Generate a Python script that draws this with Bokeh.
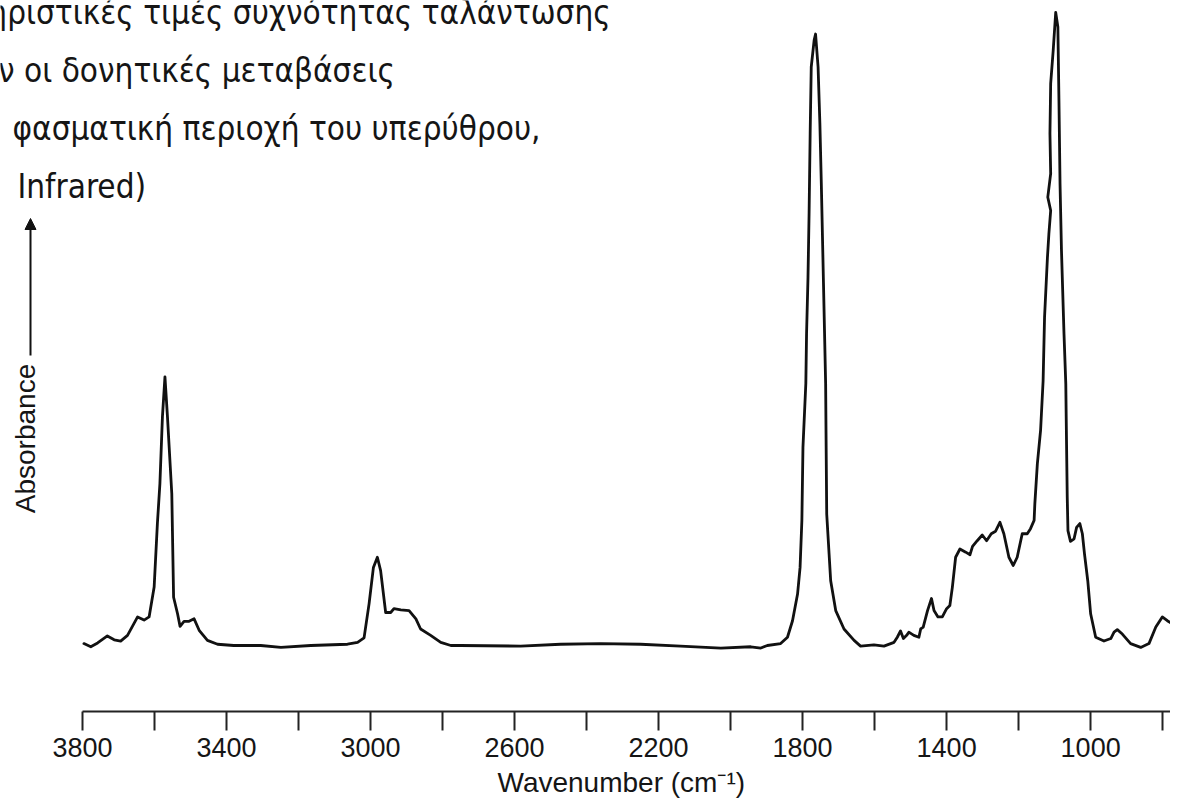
from bokeh.plotting import figure
from bokeh.models import Range1d, FixedTicker, Label, Arrow, NormalHead, Title
from bokeh.embed import file_html
from bokeh.resources import INLINE

# ---------------- data ----------------
wavenumber = [3796, 3777, 3758, 3731, 3712, 3694, 3675, 3647, 3629, 3615,
              3601, 3592, 3585, 3578, 3571, 3564, 3552, 3547, 3536, 3529,
              3518, 3504, 3490, 3476, 3453, 3425, 3380, 3305, 3249, 3166,
              3064, 3036, 3018, 3004, 2992, 2981, 2972, 2958, 2944, 2935,
              2916, 2893, 2874, 2861, 2833, 2805, 2777, 2750, 2583, 2472,
              2361, 2250, 2139, 2027, 1944, 1916, 1898, 1861, 1842, 1828,
              1814, 1807, 1802, 1799, 1791, 1789, 1785, 1782, 1779, 1776,
              1768, 1764, 1757, 1752, 1748, 1742, 1736, 1735, 1733, 1722,
              1708, 1685, 1657, 1639, 1602, 1574, 1546, 1537, 1528, 1520,
              1511, 1505, 1491, 1477, 1472, 1465, 1453, 1442, 1435, 1424,
              1412, 1400, 1391, 1384, 1375, 1363, 1347, 1335, 1328, 1315,
              1301, 1289, 1276, 1264, 1252, 1241, 1227, 1215, 1204, 1190,
              1176, 1167, 1157, 1155, 1148, 1139, 1132, 1128, 1120, 1116,
              1111, 1119, 1111, 1113, 1111, 1104, 1097, 1091, 1088, 1085,
              1081, 1074, 1069, 1068, 1065, 1063, 1056, 1046, 1039, 1030,
              1023, 1017, 1008, 1000, 986, 963, 944, 935, 926, 912,
              889, 861, 838, 819, 801, 787, 773, 756]
absorbance = [0.003, -0.002, 0.004, 0.015, 0.009, 0.007, 0.016, 0.045, 0.040, 0.045,
              0.092, 0.192, 0.255, 0.360, 0.423, 0.360, 0.239, 0.076, 0.050, 0.030,
              0.038, 0.038, 0.042, 0.024, 0.008, 0.002, 0.000, 0.000, -0.003, 0.000,
              0.002, 0.005, 0.012, 0.066, 0.123, 0.139, 0.118, 0.052, 0.052, 0.058,
              0.056, 0.055, 0.042, 0.026, 0.016, 0.005, 0.000, 0.000, -0.001, 0.002,
              0.003, 0.002, -0.001, -0.004, -0.002, -0.004, 0.000, 0.003, 0.013, 0.039,
              0.081, 0.123, 0.197, 0.312, 0.413, 0.491, 0.580, 0.680, 0.806, 0.911,
              0.953, 0.963, 0.911, 0.822, 0.727, 0.570, 0.412, 0.339, 0.207, 0.102,
              0.055, 0.026, 0.008, -0.001, 0.001, -0.001, 0.005, 0.013, 0.023, 0.011,
              0.016, 0.021, 0.016, 0.013, 0.026, 0.029, 0.055, 0.074, 0.055, 0.045,
              0.045, 0.058, 0.063, 0.092, 0.139, 0.152, 0.147, 0.143, 0.156, 0.165,
              0.174, 0.165, 0.176, 0.180, 0.194, 0.176, 0.139, 0.126, 0.139, 0.176,
              0.176, 0.184, 0.197, 0.223, 0.286, 0.339, 0.417, 0.517, 0.611, 0.648,
              0.685, 0.706, 0.743, 0.806, 0.885, 0.937, 0.997, 0.974, 0.858, 0.727,
              0.622, 0.491, 0.412, 0.365, 0.234, 0.181, 0.164, 0.168, 0.186, 0.192,
              0.176, 0.144, 0.102, 0.050, 0.013, 0.007, 0.011, 0.021, 0.025, 0.018,
              0.003, -0.003, 0.003, 0.029, 0.045, 0.039, 0.034, 0.039]

tick_values = [3800, 3600, 3400, 3200, 3000, 2800, 2600, 2400, 2200, 2000,
               1800, 1600, 1400, 1200, 1000, 800]
tick_labels = ["3800", "3400", "3000", "2600", "2200", "1800", "1400", "1000"]
x_title = "Wavenumber (cm\u207b\u00b9)"
y_title = "Absorbance"
text_lines = ["ηριστικές τιμές συχνότητας ταλάντωσης",
              "ν οι δονητικές μεταβάσεις",
              "φασματική περιοχή του υπερύθρου,",
              " Infrared)"]

# ---------------- layout ----------------
W, H = 1170, 804
PX_PER_UNIT = 0.36005          # pixels per cm^-1
X_LEFT_PX = 82                 # where 3800 sits
FRAME_H = 711                  # x-axis line position
BASE_PX, PX_PER_A = 645, 635   # absorbance 0 and scale
X0 = 3800 + X_LEFT_PX / PX_PER_UNIT
X1 = 3800 - (W - X_LEFT_PX) / PX_PER_UNIT
Y1 = BASE_PX / PX_PER_A
Y0 = (BASE_PX - FRAME_H) / PX_PER_A

def xd(px):
    return 3800 - (px - X_LEFT_PX) / PX_PER_UNIT

def yd(py):
    return (BASE_PX - py) / PX_PER_A

TXT = "#151515"
AX_FONT = "Liberation Sans"
GR_FONT = "DejaVu Sans Condensed, Liberation Sans"

p = figure(width=W, height=H, output_backend="svg", toolbar_location=None,
           x_range=Range1d(X0, X1), y_range=Range1d(Y0, Y1),
           y_axis_location=None,
           min_border_left=0, min_border_right=0,
           min_border_top=0, min_border_bottom=H - FRAME_H)
p.outline_line_color = None
p.xgrid.visible = False
p.ygrid.visible = False
p.background_fill_color = "white"
p.border_fill_color = "white"

p.line(wavenumber, absorbance, line_color="#111111", line_width=2.8,
       line_join="round", line_cap="round")

ax = p.xaxis[0]
ax.bounds = (758, 3800)
ax.ticker = FixedTicker(ticks=tick_values)
ax.major_label_overrides = {v: (str(v) if str(v) in tick_labels else "") for v in tick_values}
ax.axis_line_color = "#222222"
ax.axis_line_width = 2
ax.major_tick_line_color = "#222222"
ax.major_tick_line_width = 2
ax.major_tick_in = 0
ax.major_tick_out = 19
ax.minor_tick_line_color = None
ax.major_label_text_font = AX_FONT
ax.major_label_text_font_size = "27px"
ax.major_label_text_color = TXT
ax.major_label_standoff = 7

# x-axis title, placed below the axis where the source has it
p.add_layout(Title(text=x_title, align="left", offset=497, standoff=10,
                   text_font=AX_FONT, text_font_size="28px",
                   text_font_style="normal", text_color=TXT), "below")

# y-axis title with arrow
p.add_layout(Label(x=xd(25), y=yd(438), text=y_title, angle=1.5708,
                   text_align="center", text_baseline="middle",
                   text_font=AX_FONT, text_font_size="28px", text_color=TXT))
p.add_layout(Arrow(x_start=xd(30), y_start=yd(355), x_end=xd(30), y_end=yd(218),
                   line_color="#111111", line_width=2,
                   end=NormalHead(size=11, fill_color="#111111", line_color="#111111")))

# Greek caption (cut at the top-left corner, as in the source)
bases = [12, 70, 128, 186]
centers = [299, 196, 276, 86]
for line, b, c in zip(text_lines, bases, centers):
    lab = Label(x=xd(c), y=yd(b), text=line, text_align="center",
                text_baseline="alphabetic", text_font=GR_FONT,
                text_font_size="33px", text_color=TXT)
    p.add_layout(lab)

open("out.html", "w").write(file_html(p, INLINE))
